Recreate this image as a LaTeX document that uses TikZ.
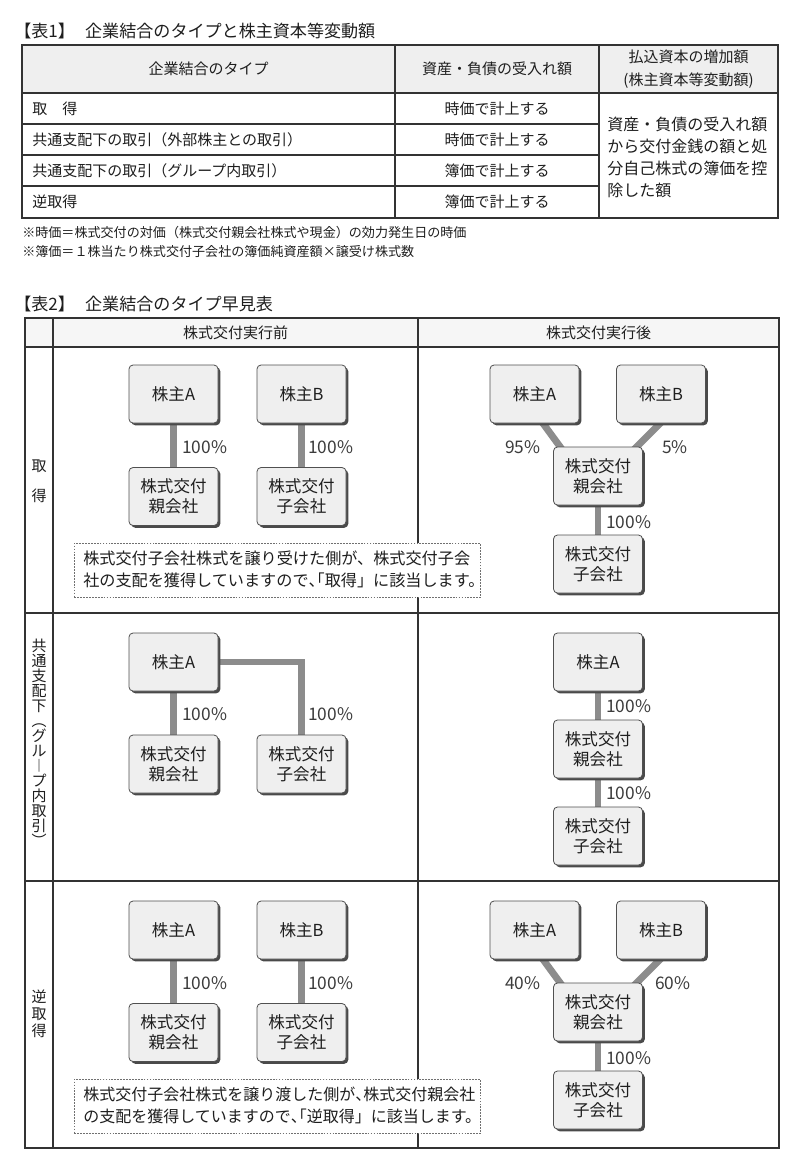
\documentclass[tikz,border=0pt]{standalone}
\usepackage{fontspec}
\setmainfont{Noto Sans CJK JP}
\newfontfamily\myjpH[RawFeature=+halt]{Noto Sans CJK JP}
\usetikzlibrary{shadows,backgrounds,calc}
\definecolor{boxfill}{HTML}{EFEFEF}
\definecolor{boxline}{HTML}{505050}
\definecolor{conn}{HTML}{8C8C8C}
\definecolor{rulec}{HTML}{333333}
\definecolor{hdrfill}{HTML}{EFEFEF}
\definecolor{hdrfillb}{HTML}{F6F6F6}
\definecolor{txtc}{HTML}{1E1E1E}
\definecolor{pctc}{HTML}{3C3C3C}
\definecolor{notec}{HTML}{707070}
\definecolor{shadowc}{HTML}{4A4A4A}
\newcommand\myfTitle{\fontsize{12.8pt}{15pt}\selectfont}
\newcommand\myfCell{\fontsize{11.25pt}{14pt}\selectfont}
\newcommand\myfCellW{\fontsize{12pt}{16.5pt}\selectfont}
\newcommand\myfFoot{\fontsize{9.8pt}{12pt}\selectfont}
\newcommand\myfBox{\fontsize{12.4pt}{15pt}\selectfont}
\newcommand\myfPct{\fontsize{13pt}{15pt}\selectfont}
\newcommand\myfNote{\fontsize{12.1pt}{16.5pt}\selectfont}
\newcommand\myfNoteS{\fontsize{12pt}{16.5pt}\selectfont}
\newcommand\myhp[1]{{\myjpH #1}}
\begin{document}
\begin{tikzpicture}[x=0.75pt,y=-0.75pt,
  ent/.style={draw=boxline, line width=0.6pt, fill=boxfill, rounded corners=3pt,
    minimum width=66.75pt, minimum height=43.5pt, inner sep=0pt, align=center,
    font=\myfBox, text=txtc,
    drop shadow={shadow xshift=1.7pt, shadow yshift=-1.7pt, fill=shadowc, opacity=1}},
  link/.style={draw=conn, line width=5.2pt, shorten <=-6pt, shorten >=-6pt},
  pct/.style={font=\myfPct, text=pctc, anchor=west, inner sep=0pt},
  notebox/.style={draw=notec, line width=0.6pt, dash pattern=on 1.3pt off 0.9pt,
    fill=white, anchor=north west, minimum width=304.5pt, minimum height=40.5pt, inner sep=0pt},
  notetext/.style={font=\myfNote, text=txtc, anchor=west, align=left, inner sep=0pt},
  cell/.style={font=\myfCell, text=txtc, inner sep=0pt},
  ttl/.style={font=\myfTitle, text=txtc, anchor=west, inner sep=0pt},
  tline/.style={draw=rulec, line width=0.8pt},
  tframe/.style={draw=rulec, line width=1.2pt},
]
\useasboundingbox (0,0) rectangle (800,1168);
\begin{pgfonlayer}{background}
\fill[white] (0,0) rectangle (800,1168);
\end{pgfonlayer}

% ---------- Table 1 ----------
\node[ttl] (title1) at (14,31) {【表1】\hspace{0.6em}企業結合のタイプと株主資本等変動額};
\fill[hdrfill] (22,45) rectangle (778,93);
\draw[tline] (22,93) -- (778,93);
\foreach \yy in {124,155,186} \draw[tline] (22,\yy) -- (599,\yy);
\draw[tline] (395,45) -- (395,218);
\draw[tline] (599,45) -- (599,218);
\draw[tframe] (22,45) rectangle (778,218);

\node[cell] (h1) at (208.5,69) {企業結合のタイプ};
\node[cell] (h2) at (497,69) {資産・負債の受入れ額};
\node[cell, align=center, font=\fontsize{11.25pt}{17.25pt}\selectfont] (h3) at (688.5,69) {払込資本の増加額\\(株主資本等変動額)};

\node[cell, anchor=west] (r1) at (32,108.5) {取　得};
\node[cell, anchor=west] (r2) at (32,139.5) {共通支配下の取引（外部株主との取引）};
\node[cell, anchor=west] (r3) at (32,170.5) {共通支配下の取引（グループ内取引）};
\node[cell, anchor=west] (r4) at (32,202) {逆取得};

\node[cell] (v1) at (497,108.5) {時価で計上する};
\node[cell] (v2) at (497,139.5) {時価で計上する};
\node[cell] (v3) at (497,170.5) {簿価で計上する};
\node[cell] (v4) at (497,202) {簿価で計上する};

\node[cell, font=\myfCellW, align=left, anchor=west] (cap) at (607,157)
  {資産・負債の受入れ額\\から交付金銭の額と処\\分自己株式の簿価を控\\除した額};

\node[font=\myfFoot, text=txtc, anchor=west, inner sep=0pt] (fn1) at (22,233)
  {※時価＝株式交付の対価（株式交付親会社株式や現金）の効力発生日の時価};
\node[font=\myfFoot, text=txtc, anchor=west, inner sep=0pt] (fn2) at (22,252)
  {※簿価＝１株当たり株式交付子会社の簿価純資産額×譲受け株式数};

% ---------- Table 2 ----------
\node[ttl] (title2) at (14,304) {【表2】\hspace{0.6em}企業結合のタイプ早見表};
\fill[hdrfillb] (25,318) rectangle (779,347);
\foreach \yy in {347,613,881} \draw[tline] (25,\yy) -- (779,\yy);
\draw[tline] (53,318) -- (53,1148);
\draw[tline] (418,318) -- (418,1148);
\draw[tframe] (25,318) rectangle (779,1148);

\node[cell] (hb) at (235.5,333) {株式交付実行前};
\node[cell] (ha) at (598.5,333) {株式交付実行後};

\node[cell, align=center, font=\fontsize{11.25pt}{22.5pt}\selectfont] (s1) at (39,481) {取\\得};
\node[cell, align=center, font=\fontsize{11.25pt}{11.25pt}\selectfont] (s2) at (39,743)
  {共\\通\\支\\配\\下\\︵\\グ\\ル\\︱\\プ\\内\\取\\引\\︶};
\node[cell, align=center, font=\fontsize{11.25pt}{12.75pt}\selectfont] (s3) at (39,1014) {逆\\取\\得};

% Row 1 : before
\node[ent] (a1) at (173.5,394) {株主A};
\node[ent] (b1) at (301.5,394) {株主B};
\node[ent] (p1) at (173.5,496.5) {株式交付\\親会社};
\node[ent] (c1) at (301.5,496.5) {株式交付\\子会社};
\node[pct] (l1a) at (182,447) {100\%};
\node[pct] (l1b) at (308,447) {100\%};
\node[notebox] (n1) at (74,543) {};
\node[notetext] (n1t) at (83,569) {株式交付子会社株式を譲り受けた側が、株式交付子会\\社の支配を獲得していますので\myhp{、「}取得」に該当します。};

% Row 1 : after
\node[ent] (a1r) at (534.5,394) {株主A};
\node[ent] (b1r) at (661,394) {株主B};
\node[ent] (p1r) at (598,476) {株式交付\\親会社};
\node[ent] (c1r) at (598,564) {株式交付\\子会社};
\node[pct] (l1c) at (505,447) {95\%};
\node[pct] (l1d) at (662,447) {5\%};
\node[pct] (l1e) at (606,522) {100\%};

% Row 2 : before
\node[ent] (a2) at (173.5,662) {株主A};
\node[ent] (p2) at (173.5,764) {株式交付\\親会社};
\node[ent] (c2) at (301.5,764) {株式交付\\子会社};
\node[pct] (l2a) at (182,714) {100\%};
\node[pct] (l2b) at (308,714) {100\%};

% Row 2 : after
\node[ent] (a2r) at (598,662) {株主A};
\node[ent] (p2r) at (598,749) {株式交付\\親会社};
\node[ent] (c2r) at (598,836) {株式交付\\子会社};
\node[pct] (l2c) at (606,706) {100\%};
\node[pct] (l2d) at (606,793) {100\%};

% Row 3 : before
\node[ent] (a3) at (173.5,930) {株主A};
\node[ent] (b3) at (301.5,930) {株主B};
\node[ent] (p3) at (173.5,1032.5) {株式交付\\親会社};
\node[ent] (c3) at (301.5,1032.5) {株式交付\\子会社};
\node[pct] (l3a) at (182,983) {100\%};
\node[pct] (l3b) at (308,983) {100\%};
\node[notebox] (n3) at (74,1079) {};
\node[notetext, font=\myfNoteS] (n3t) at (83,1105) {株式交付子会社株式を譲り渡した側が\myhp{、}株式交付親会社\\の支配を獲得していますので\myhp{、「}逆取得」に該当します。};

% Row 3 : after
\node[ent] (a3r) at (534.5,930) {株主A};
\node[ent] (b3r) at (661,930) {株主B};
\node[ent] (p3r) at (598,1012) {株式交付\\親会社};
\node[ent] (c3r) at (598,1100) {株式交付\\子会社};
\node[pct] (l3c) at (505,983) {40\%};
\node[pct] (l3d) at (655,983) {60\%};
\node[pct] (l3e) at (606,1058) {100\%};

% ---------- connectors ----------
\begin{pgfonlayer}{background}
\draw[link] (a1.south) -- (p1.north);
\draw[link] (b1.south) -- (c1.north);
\draw[link] ($(a1r.south)+(8.5,0)$) -- ($(p1r.north)+(-38,0)$);
\draw[link] ($(b1r.south)+(-1,0)$) -- ($(p1r.north)+(39,0)$);
\draw[link] (p1r.south) -- (c1r.north);

\draw[link] (a2.south) -- (p2.north);
\draw[link] (a2.east) -| (c2.north);
\draw[link] (a2r.south) -- (p2r.north);
\draw[link] (p2r.south) -- (c2r.north);

\draw[link] (a3.south) -- (p3.north);
\draw[link] (b3.south) -- (c3.north);
\draw[link] ($(a3r.south)+(8.5,0)$) -- ($(p3r.north)+(-38,0)$);
\draw[link] ($(b3r.south)+(-1,0)$) -- ($(p3r.north)+(39,0)$);
\draw[link] (p3r.south) -- (c3r.north);
\end{pgfonlayer}
\end{tikzpicture}
\end{document}
